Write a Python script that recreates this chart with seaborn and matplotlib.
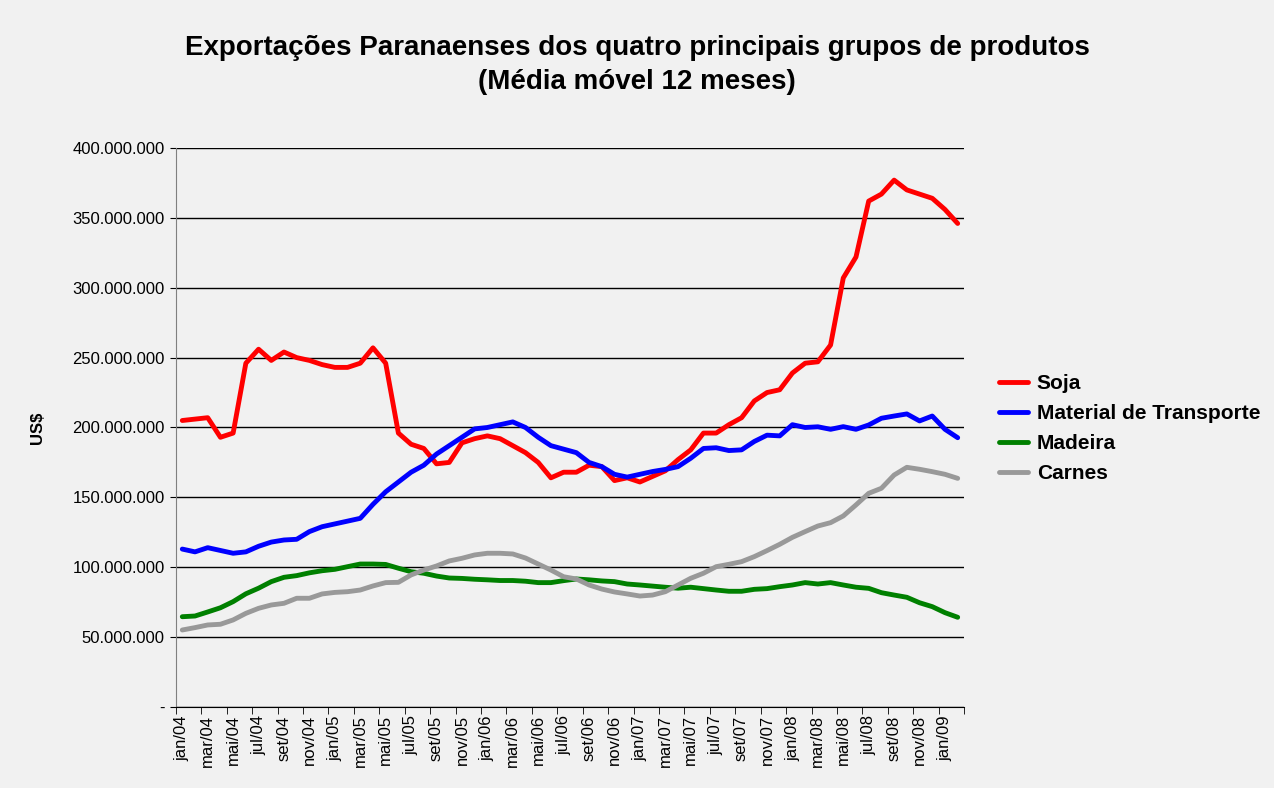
import numpy as np
import pandas as pd
import seaborn as sns
import matplotlib.pyplot as plt
from matplotlib.ticker import FuncFormatter

meses = ["jan", "fev", "mar", "abr", "mai", "jun", "jul", "ago", "set", "out", "nov", "dez"]
periodos = [f"{m}/{a:02d}" for a in range(4, 10) for m in meses][:62]

# valores em milhoes de US$ (media movel 12 meses)
soja = [205, 206, 207, 193, 196, 246, 256, 248, 254, 250, 248, 245, 243, 243, 246, 257,
        246, 196, 188, 185, 174, 175, 189, 192, 194, 192, 187, 182, 175, 164, 168, 168,
        173, 172, 162, 164, 161, 165, 169, 177, 184, 196, 196, 202, 207, 219, 225, 227,
        239, 246, 247, 259, 307, 322, 362, 367, 377, 370, 367, 364, 356, 346]
transporte = [113, 111, 114, 112, 110, 111, 115, 118, 119.5, 120, 125.5, 129, 131, 133, 135, 145,
              154, 161, 168, 173, 181, 187, 193, 199, 200, 202, 204, 200, 193, 187, 184.5, 182,
              175, 172, 166.5, 164.5, 166.5, 168.5, 170, 172, 178, 185, 185.5, 183.5, 184, 190,
              194.5, 194, 202, 200, 200.5, 198.7, 200.6, 198.7, 201.8, 206.6, 208.2, 209.7, 204.7,
              208.2, 198.7, 192.7]
madeira = [64.6, 65.1, 68, 71, 75.4, 81, 85, 89.7, 92.8, 94, 96, 97.5, 98.5, 100.4, 102.3, 102.3,
           102, 99.3, 96.8, 95.7, 93.7, 92.3, 92, 91.4, 91, 90.5, 90.5, 90, 89, 89, 90.4, 91.6,
           91, 90.2, 89.7, 88, 87.3, 86.5, 85.7, 85, 85.7, 84.7, 83.7, 82.8, 82.8, 84.2, 84.7,
           86.1, 87.3, 89, 88, 89, 87.3, 85.7, 84.9, 81.8, 80.1, 78.5, 74.6, 71.8, 67.5, 64.2]
carnes = [55.1, 56.8, 58.7, 59.2, 62.3, 67, 70.6, 73, 74.2, 77.8, 77.8, 80.9, 82, 82.5, 83.7, 86.6,
          89, 89.2, 94.5, 98, 100.9, 104.5, 106.4, 108.8, 110, 110, 109.5, 106.6, 102.3, 98, 93.2,
          91.6, 87.3, 84.4, 82.3, 80.9, 79.4, 80.1, 82.5, 87.3, 92.1, 95.7, 100.4, 102.1, 104,
          107.6, 111.9, 116.4, 121.4, 125.5, 129.5, 131.9, 136.7, 144.6, 152.9, 156.5, 166, 171.5,
          170.1, 168.4, 166.5, 163.6]

series = {"Soja": soja, "Material de Transporte": transporte, "Madeira": madeira, "Carnes": carnes}
cores = {"Soja": "#ff0000", "Material de Transporte": "#0000ff", "Madeira": "#008000", "Carnes": "#999999"}

rows = []
for nome, vals in series.items():
    for i, v in enumerate(vals):
        rows.append({"mes": i, "valor": v * 1e6, "grupo": nome})
df = pd.DataFrame(rows)

sns.set_style("white")
plt.rcParams["font.family"] = ["Liberation Sans", "DejaVu Sans"]
plt.rcParams["text.color"] = "black"
plt.rcParams["xtick.color"] = "black"
plt.rcParams["ytick.color"] = "black"
plt.rcParams["axes.labelcolor"] = "black"

fig = plt.figure(figsize=(12.74, 7.88), dpi=100)
fig.patch.set_facecolor("#f1f1f1")
ax = fig.add_axes([0.1381, 0.1028, 0.6186, 0.7094])
ax.set_facecolor("#f1f1f1")

sns.lineplot(data=df, x="mes", y="valor", hue="grupo", palette=cores,
             hue_order=list(series.keys()), linewidth=3.5, ax=ax, legend=True)

ax.set_xlim(-0.5, len(periodos) - 0.5)
ax.set_ylim(0, 400e6)
ax.set_yticks(np.arange(0, 400e6 + 1, 50e6))
ax.yaxis.set_major_formatter(FuncFormatter(
    lambda v, p: "-" if v == 0 else f"{int(v):,}".replace(",", ".")))
ax.grid(axis="y", color="black", linewidth=1)
ax.set_axisbelow(True)

ax.set_xticks(range(0, len(periodos), 2))
ax.set_xticklabels(periodos[::2], rotation=90)
ax.set_xticks(np.arange(-0.5, len(periodos), 2), minor=True)
ax.tick_params(axis="x", which="major", length=0, pad=6, labelsize=12)
ax.tick_params(axis="x", which="minor", length=5, color="black", direction="out")
ax.tick_params(axis="y", length=4, color="black", direction="out", labelsize=12, pad=4)
ax.xaxis.set_tick_params(bottom=True, which="both")
ax.yaxis.set_tick_params(left=True)

for s in ["top", "right"]:
    ax.spines[s].set_visible(False)
ax.spines["left"].set_color("#808080")
ax.spines["bottom"].set_color("black")

ax.set_xlabel("")
ax.set_ylabel("US$", fontsize=12, fontweight="bold", labelpad=20)

fig.suptitle("Exportações Paranaenses dos quatro principais grupos de produtos\n(Média móvel 12 meses)",
             fontsize=20, fontweight="bold", y=0.955, va="top", linespacing=1.38)

ax.legend(loc="center left", bbox_to_anchor=(1.034, 0.498), frameon=False, borderaxespad=0,
          prop={"weight": "bold", "size": 15}, handlelength=1.4, handletextpad=0.4,
          labelspacing=0.52)

fig.savefig("out.png", dpi=100, facecolor=fig.get_facecolor())
